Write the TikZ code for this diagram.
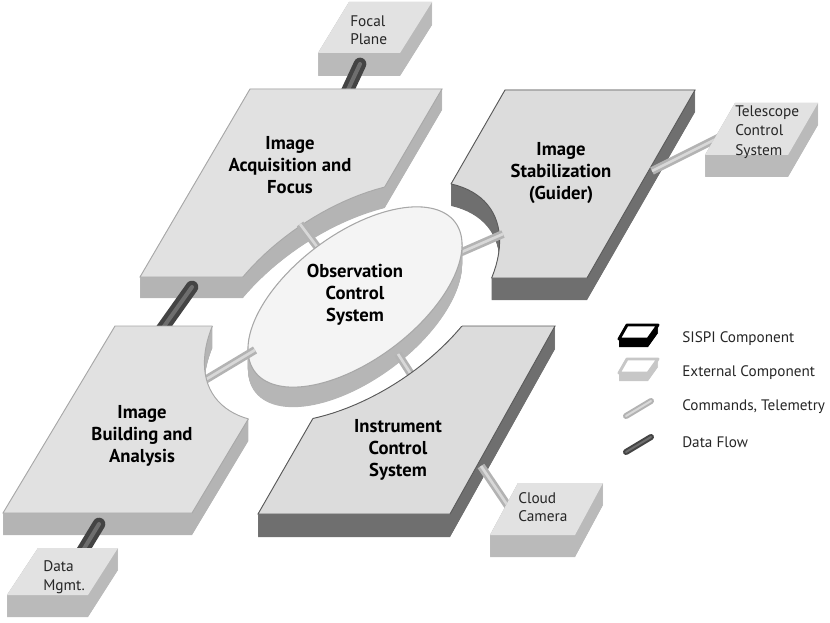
\documentclass[tikz,border=0pt]{standalone}
\usepackage{fontspec}
\setmainfont{PT Sans}
\definecolor{topL}{HTML}{E1E1E1}
\definecolor{sideL}{HTML}{B4B4B4}
\definecolor{topD}{HTML}{DCDCDC}
\definecolor{sideD}{HTML}{6F6F6F}
\definecolor{lineD}{HTML}{5A5A5A}
\definecolor{lineL}{HTML}{A8A8A8}
\definecolor{discTop}{HTML}{F4F4F4}
\definecolor{discSide}{HTML}{B6B6B6}
\definecolor{boxTop}{HTML}{E2E2E2}
\definecolor{boxSide}{HTML}{BABABA}
\definecolor{dataC}{HTML}{444444}
\definecolor{dataH}{HTML}{6E6E6E}
\definecolor{cmdC}{HTML}{B3B3B3}
\definecolor{cmdH}{HTML}{D8D8D8}
\newcommand\cutpath{plot[domain=0:360,samples=120,variable=\ang] ({352+138.4*cos(\ang)+51.4*sin(\ang)},{302-93.4*cos(\ang)+76.3*sin(\ang)}) -- cycle}
\newcommand\discpath{plot[domain=0:360,samples=120,variable=\ang] ({355+100.2*cos(\ang)+37.7*sin(\ang)},{297-74.7*cos(\ang)+50.5*sin(\ang)}) -- cycle}
\newcommand\slabdraw[5]{%
  \foreach \s in {0,0.5,...,#2}{\begin{scope}[shift={(0,\s)}]\clip #1; \fill[#3,even odd rule] (-50,-50) rectangle (900,700) \cutpath;\end{scope}}%
  \begin{scope}\clip #1; \fill[#4,even odd rule] (-50,-50) rectangle (900,700) \cutpath; \draw[#5,line width=0.7pt] \cutpath;\end{scope}%
  \begin{scope}[even odd rule]\clip (-50,-50) rectangle (900,700) \cutpath; \draw[#5,line width=0.7pt] #1;\end{scope}%
}
\newcommand\boxdraw[4]{%
  \foreach \s in {0,0.5,...,#2}{\fill[#3, shift={(0,\s)}] #1;}%
  \fill[#4] #1;%
}
\tikzset{
  bigl/.style={font=\bfseries\fontsize{14}{16.5}\selectfont, align=center, text=black, inner sep=0},
  smalll/.style={font=\fontsize{11.5}{14}\selectfont, align=left, inner sep=0, anchor=west, text=black!85},
  legl/.style={font=\fontsize{11.4}{13}\selectfont, anchor=west, inner sep=0, text=black!85},
  datapipe/.style={draw=dataC, line width=9.5pt, line cap=round},
  datahl/.style={draw=dataH, line width=3pt, line cap=round},
  cmdpipe/.style={draw=cmdC, line width=6pt},
  cmdhl/.style={draw=cmdH, line width=2pt},
}
\begin{document}
\begin{tikzpicture}[x=0.75pt,y=-0.75pt]
\useasboundingbox (0,0) rectangle (830,623);
% named pipe end points
\coordinate (fpA) at (360,64);  \coordinate (fpB) at (346,94);
\coordinate (iaA) at (192,287); \coordinate (iaB) at (160,332);
\coordinate (ibA) at (99,524);  \coordinate (ibB) at (82,552);
\coordinate (isA) at (652,171); \coordinate (isB) at (722,136);
\coordinate (icA) at (481,466); \coordinate (icB) at (512,512);
\coordinate (c1A) at (300,224); \coordinate (c1B) at (318,248);
\coordinate (c2A) at (448,258); \coordinate (c2B) at (503,234);
\coordinate (c3A) at (255,350); \coordinate (c3B) at (200,383);
\coordinate (c4A) at (398,354); \coordinate (c4B) at (416,382);

% Focal plane box
\boxdraw{(349,2) -- (432,2) -- (400,53) -- (318,53) -- cycle}{23}{boxSide}{boxTop}
\draw[datapipe] (fpA) -- (fpB); \draw[datahl] (fpA) -- (fpB);
% Image acquisition
\slabdraw{(250,89) -- (442,89) -- (332,277) -- (140,277) -- cycle}{21}{sideL}{topL}{lineL}
\draw[datapipe] (iaA) -- (iaB); \draw[datahl] (iaA) -- (iaB);
% Image stabilization
\slabdraw{(505,90) -- (695,90) -- (587,278) -- (397,278) -- cycle}{22}{sideD}{topD}{lineD}
\draw[cmdpipe] (isA) -- (isB); \draw[cmdhl] (isA) -- (isB);
\boxdraw{(735,103) -- (818,103) -- (788,155) -- (705,155) -- cycle}{22}{boxSide}{boxTop}
% connectors to disc (behind)
\draw[cmdpipe] (c1A) -- (c1B); \draw[cmdhl] (c1A) -- (c1B);
\draw[cmdpipe] (c2A) -- (c2B); \draw[cmdhl] (c2A) -- (c2B);
% disc
\foreach \s in {0,0.5,...,20}{\fill[discSide, shift={(0,\s)}] \discpath;}
\fill[discTop] \discpath;
\draw[lineL, line width=0.8pt] \discpath;
\draw[cmdpipe] (c3A) -- (c3B); \draw[cmdhl] (c3A) -- (c3B);
\draw[cmdpipe] (c4A) -- (c4B); \draw[cmdhl] (c4A) -- (c4B);
% Image building
\slabdraw{(115,326) -- (304,326) -- (192,513) -- (3,513) -- cycle}{22}{sideL}{topL}{lineL}
\draw[datapipe] (ibA) -- (ibB); \draw[datahl] (ibA) -- (ibB);
\boxdraw{(38,548) -- (118,548) -- (88,595) -- (7,595) -- cycle}{22}{boxSide}{boxTop}
% Instrument control
\slabdraw{(366,326) -- (555,326) -- (450,514) -- (258,514) -- cycle}{23}{sideD}{topD}{lineD}
\draw[cmdpipe] (icA) -- (icB); \draw[cmdhl] (icA) -- (icB);
\boxdraw{(518,483) -- (603,483) -- (575,535) -- (490,535) -- cycle}{22}{boxSide}{boxTop}

% labels
\node[bigl] (ia) at (290,165) {Image\\Acquisition and\\Focus};
\node[bigl] (is) at (561,173) {Image\\Stabilization\\(Guider)};
\node[bigl] (ocs) at (355,295) {Observation\\Control\\System};
\node[bigl] (ib) at (142,436) {Image\\Building and\\Analysis};
\node[bigl] (ics) at (398,450) {Instrument\\Control\\System};
\node[smalll, font=\fontsize{11.5}{13.5}\selectfont] (fp) at (350,30) {Focal\\Plane};
\node[smalll, font=\fontsize{11.5}{14.6}\selectfont] (tcs) at (735,132) {Telescope\\Control\\System};
\node[smalll] (cc) at (518,507) {Cloud\\Camera};
\node[smalll] (dm) at (43,577) {Data\\Mgmt.};

% legend
\boxdraw{(627,325) -- (658,325) -- (648,339) -- (619,339) -- cycle}{8}{black}{white}
\draw[black, line width=2.2pt, line join=round] (627,325) -- (658,325) -- (648,339) -- (619,339) -- cycle;
\boxdraw{(627,359) -- (658,359) -- (648,373) -- (619,373) -- cycle}{8}{black!22}{white}
\draw[black!22, line width=2.2pt, line join=round] (627,359) -- (658,359) -- (648,373) -- (619,373) -- cycle;
\coordinate (lgcA) at (626,416); \coordinate (lgcB) at (651,401);
\coordinate (lgdA) at (626,452); \coordinate (lgdB) at (651,437);
\draw[cmdC, line width=4.5pt, line cap=round] (lgcA) -- (lgcB);
\draw[cmdH, line width=1.5pt, line cap=round] (lgcA) -- (lgcB);
\draw[dataC, line width=4.5pt, line cap=round] (lgdA) -- (lgdB);
\draw[dataH, line width=1.5pt, line cap=round] (lgdA) -- (lgdB);
\node[legl] (l1) at (682,339) {SISPI Component};
\node[legl] (l2) at (682,373) {External Component};
\node[legl] (l3) at (682,407) {Commands, Telemetry};
\node[legl] (l4) at (682,442) {Data Flow};
\end{tikzpicture}
\end{document}
